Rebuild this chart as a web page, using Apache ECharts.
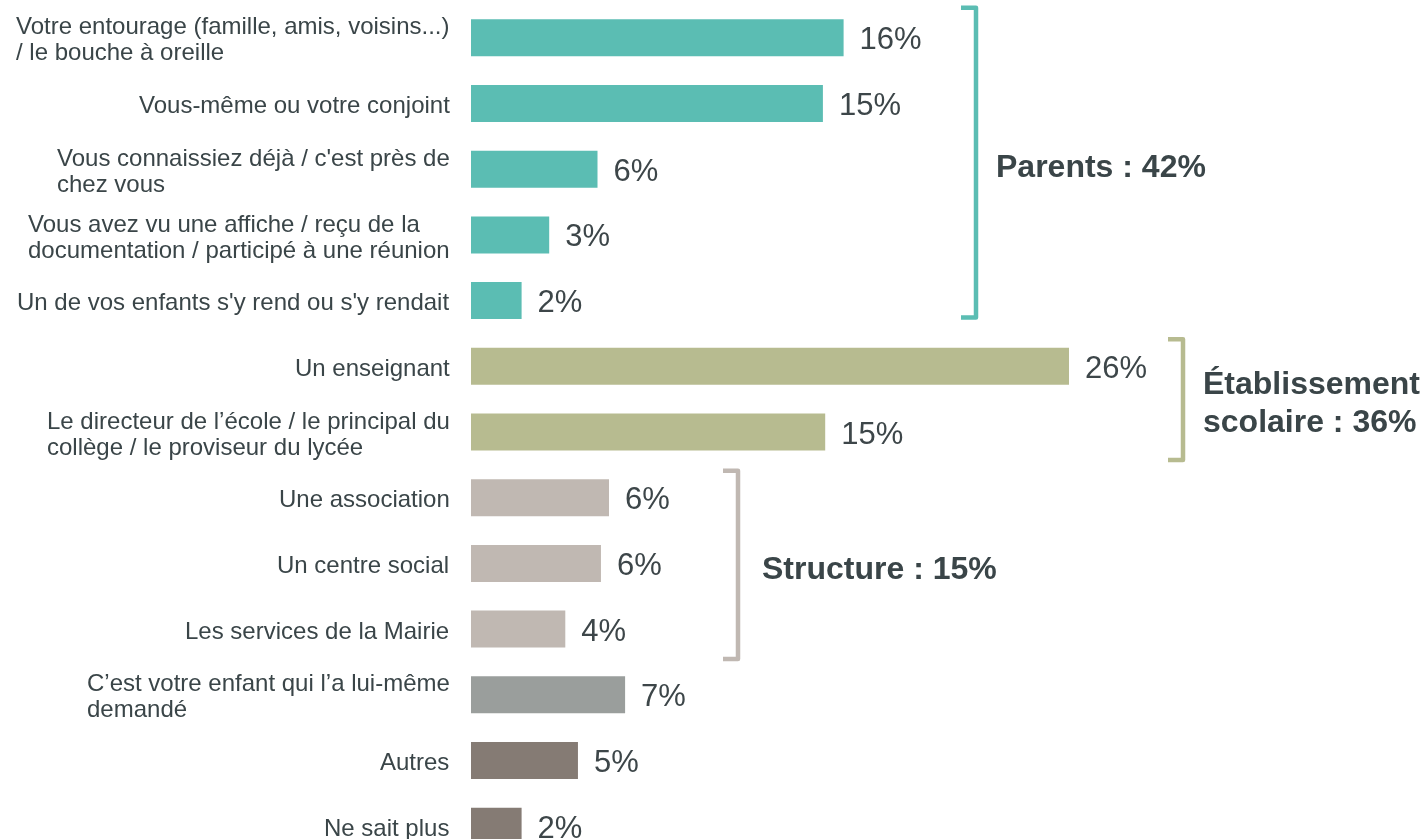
<!DOCTYPE html>
<html lang="fr">
  <head>
    <meta charset="UTF-8" />
    <title>Origine de la connaissance</title>
    <script src="https://cdn.jsdelivr.net/npm/echarts@6/dist/echarts.min.js"></script>
    <style>
      html, body { margin: 0; padding: 0; background: #fff; }
    </style>
  </head>
  <body>
    <div id="main" style="width: 1426px; height: 839px"></div>
    <script>
      const categories = [
        'Votre entourage (famille, amis, voisins...)\n/ le bouche à oreille',
        'Vous-même ou votre conjoint',
        "Vous connaissiez déjà / c'est près de\nchez vous",
        'Vous avez vu une affiche / reçu de la\ndocumentation / participé à une réunion',
        "Un de vos enfants s'y rend ou s'y rendait",
        'Un enseignant',
        'Le directeur de l’école / le principal du\ncollège / le proviseur du lycée',
        'Une association',
        'Un centre social',
        'Les services de la Mairie',
        'C’est votre enfant qui l’a lui-même\ndemandé',
        'Autres',
        'Ne sait plus'
      ];
      // bar lengths, labels are the rounded figures
      const values = [16.2, 15.3, 5.5, 3.4, 2.2, 26.0, 15.4, 6.0, 5.65, 4.1, 6.7, 4.65, 2.2];
      const valueLabels = ['16%', '15%', '6%', '3%', '2%', '26%', '15%', '6%', '6%', '4%', '7%', '5%', '2%'];
      const barGroup = [0, 0, 0, 0, 0, 1, 1, 2, 2, 2, 3, 4, 4];
      const groupColors = ['#5bbdb3', '#b7bb90', '#c0b8b2', '#9a9e9c', '#857b74'];

      const groupNames = ['Parents : 42%', 'Établissement\nscolaire : 36%', 'Structure : 15%'];
      const groupFirst = [0, 5, 7];
      const groupLast = [4, 6, 9];

      const font = 'Arial, "Liberation Sans", sans-serif';
      const textColor = '#3a4548';

      // left-aligned lines inside a right-aligned block
      const ctx = document.createElement('canvas').getContext('2d');
      ctx.font = '24px ' + font;
      const rich = {};
      categories.forEach(function (c, i) {
        const w = Math.max.apply(null, c.split('\n').map(function (l) { return ctx.measureText(l).width; }));
        rich['r' + i] = { width: Math.ceil(w), align: 'left', fontSize: 24, lineHeight: 26, color: textColor, fontFamily: font };
      });

      const chart = echarts.init(document.getElementById('main'));
      const option = {
        animation: false,
        grid: { left: 471, top: 5, width: 920, height: 854, outerBoundsMode: 'none', containLabel: false },
        xAxis: { type: 'value', min: 0, max: 40, show: false },
        yAxis: {
          type: 'category',
          inverse: true,
          data: categories,
          axisLine: { show: false },
          axisTick: { show: false },
          axisLabel: {
            margin: 21,
            align: 'right',
            padding: [6, 0, 0, 0],
            rich: rich,
            formatter: function (v) {
              const i = categories.indexOf(v);
              return v.split('\n').map(function (l) { return '{r' + i + '|' + l + '}'; }).join('\n');
            }
          }
        },
        series: [
          {
            type: 'bar',
            barWidth: 37,
            data: values.map(function (v, i) {
              return { value: v, itemStyle: { color: groupColors[barGroup[i]] } };
            }),
            label: {
              show: true,
              position: 'right',
              distance: 16,
              offset: [0, 3],
              fontSize: 31,
              fontFamily: font,
              color: '#3d4649',
              formatter: function (p) { return valueLabels[p.dataIndex]; }
            }
          }
        ]
      };
      chart.setOption(option);

      // brackets and group titles, placed from the axes
      const bracketX = [976, 1183, 738];
      const titleX = [996, 1203, 762];
      const topPad = [30, 27, 27];
      const bottomPad = [17, 28, 30];
      const graphics = [];
      groupNames.forEach(function (name, g) {
        const yTop = chart.convertToPixel({ yAxisIndex: 0 }, groupFirst[g]) - topPad[g];
        const yBot = chart.convertToPixel({ yAxisIndex: 0 }, groupLast[g]) + bottomPad[g];
        const x = bracketX[g];
        graphics.push({
          type: 'polyline',
          shape: { points: [[x - 15, yTop], [x, yTop], [x, yBot], [x - 15, yBot]] },
          style: { stroke: groupColors[g], lineWidth: 4.5, fill: null, lineJoin: 'round', lineCap: 'butt' }
        });
        graphics.push({
          type: 'text',
          x: titleX[g],
          y: (yTop + yBot) / 2 + 5,
          style: {
            text: name,
            fill: textColor,
            font: 'bold 32px ' + font,
            lineHeight: 38,
            textAlign: 'left',
            textVerticalAlign: 'middle'
          }
        });
      });
      chart.setOption({ graphic: graphics });
    </script>
  </body>
</html>
